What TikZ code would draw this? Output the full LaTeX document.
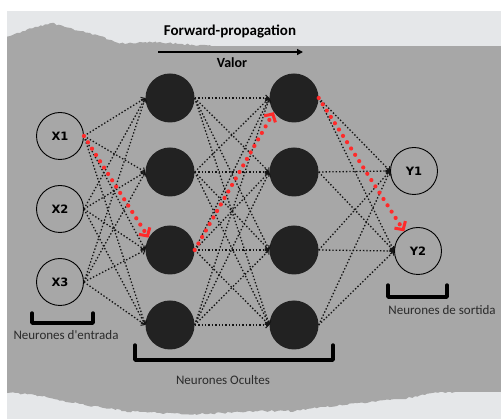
\documentclass[tikz,border=0pt]{standalone}
\usepackage{fontspec}
\setmainfont{Carlito}
\newfontfamily\unitfont{DejaVu Sans}
\usetikzlibrary{arrows.meta,decorations.pathmorphing}

\definecolor{paper}{HTML}{E5E7E9}
\definecolor{board}{HTML}{A7A7A7}
\definecolor{unitfill}{HTML}{222222}
\definecolor{hot}{HTML}{FF2A2A}
\definecolor{ink}{HTML}{2B2B2B}

\begin{document}
\pgfmathsetseed{11}
\begin{tikzpicture}[x=1pt,y=-1pt,
  inunit/.style={circle,draw=black,line width=0.9pt,minimum size=47pt,inner sep=0pt,
    font=\unitfont\bfseries\fontsize{11.5}{12}\selectfont},
  hidunit/.style={circle,fill=unitfill,minimum size=49pt,inner sep=0pt},
  link/.style={draw=black!92,line width=1.3pt,dash pattern=on 1.4pt off 2pt,
    -{Straight Barb[length=3pt,width=6pt,line width=1pt]}},
  hotlink/.style={draw=hot,line width=4.2pt,line cap=round,dash pattern=on 0pt off 7.5pt,
    -{Straight Barb[length=6pt,width=13pt,line width=3pt]}},
  bracket/.style={line width=3.4pt,line cap=round,line join=round},
  caption/.style={font=\fontsize{13}{15}\selectfont,text=ink},
  torn/.style={decorate,decoration={random steps,segment length=2.5pt,amplitude=1pt}}]

\useasboundingbox (0,0) rectangle (501,419);

% paper sheet and the grey board with torn edges
\fill[white] (0,0) rectangle (501,419);
\fill[paper] (7,11) rectangle (501,419);
\fill[board] (7,46) rectangle (501,392);
\fill[board,torn] (0,38) -- (20,33) -- (35,27) -- (52,23) -- (65,27) -- (80,31)
  -- (100,36) -- (115,42) -- (125,44) -- (140,42) -- (160,42) -- (180,44)
  -- (200,45) -- (215,46) -- (215,60) -- (0,60) -- cycle;
\fill[board,torn] (0,392) -- (30,394) -- (50,398) -- (80,404) -- (100,407)
  -- (125,411) -- (160,413) -- (200,414) -- (240,412) -- (270,411) -- (295,411)
  -- (320,407) -- (345,405) -- (370,402) -- (400,399) -- (425,395) -- (440,392)
  -- (455,392) -- (455,380) -- (0,380) -- cycle;
\fill[white] (0,0) rectangle (7,419);
\fill[white] (0,0) rectangle (501,11);

% title
\node[font=\bfseries\fontsize{15}{18}\selectfont] (fwd) at (230,32) {Forward-propagation};
\coordinate (fwdL) at (158,52);
\coordinate (fwdR) at (303,52);
\draw[line width=1.6pt,-{Triangle[length=6pt,width=6pt]}] (fwdL) -- (fwdR);
\node[font=\bfseries\fontsize{14}{16}\selectfont] (valor) at (232,63) {Valor};

% input layer
\node[inunit] (x1) at (60,136) {X1};
\node[inunit] (x2) at (60,209) {X2};
\node[inunit] (x3) at (60,282) {X3};

% hidden layers
\node[hidunit] (p1) at (170,98) {};
\node[hidunit] (p2) at (170,172) {};
\node[hidunit] (p3) at (170,250) {};
\node[hidunit] (p4) at (170,325) {};
\node[hidunit] (q1) at (294,98) {};
\node[hidunit] (q2) at (294,172) {};
\node[hidunit] (q3) at (294,250) {};
\node[hidunit] (q4) at (294,325) {};

% output layer
\node[inunit] (y1) at (414,171) {Y1};
\node[inunit] (y2) at (418,251) {Y2};

% full connections
\foreach \i in {1,2,3}
  \foreach \j in {1,...,4}
    \draw[link] (x\i.east) -- (p\j.west);
\foreach \i in {1,...,4}
  \foreach \j in {1,...,4}
    \draw[link] (p\i.east) -- (q\j.west);
\foreach \i in {1,...,4}
  \foreach \j in {1,2}
    \draw[link] (q\i.east) -- (y\j.west);

% highlighted path
\draw[hotlink] (x1.east) -- (p3.150);
\draw[hotlink] (p3.east) -- (q1.215);
\draw[hotlink] (q1.east) -- (y2.125);

% layer brackets and captions
\draw[bracket] (32,313) -- (32,323) -- (93,323) -- (93,313);
\draw[bracket] (135,345) -- (135,360) -- (333,360) -- (333,345);
\draw[bracket] (388,285) -- (388,297) -- (447,297) -- (447,285);
\node[caption] (inlbl) at (66,335) {Neurones d\textquotesingle entrada};
\node[caption] (hidlbl) at (223,380) {Neurones Ocultes};
\node[caption] (outlbl) at (442,310) {Neurones de sortida};
\end{tikzpicture}
\end{document}
